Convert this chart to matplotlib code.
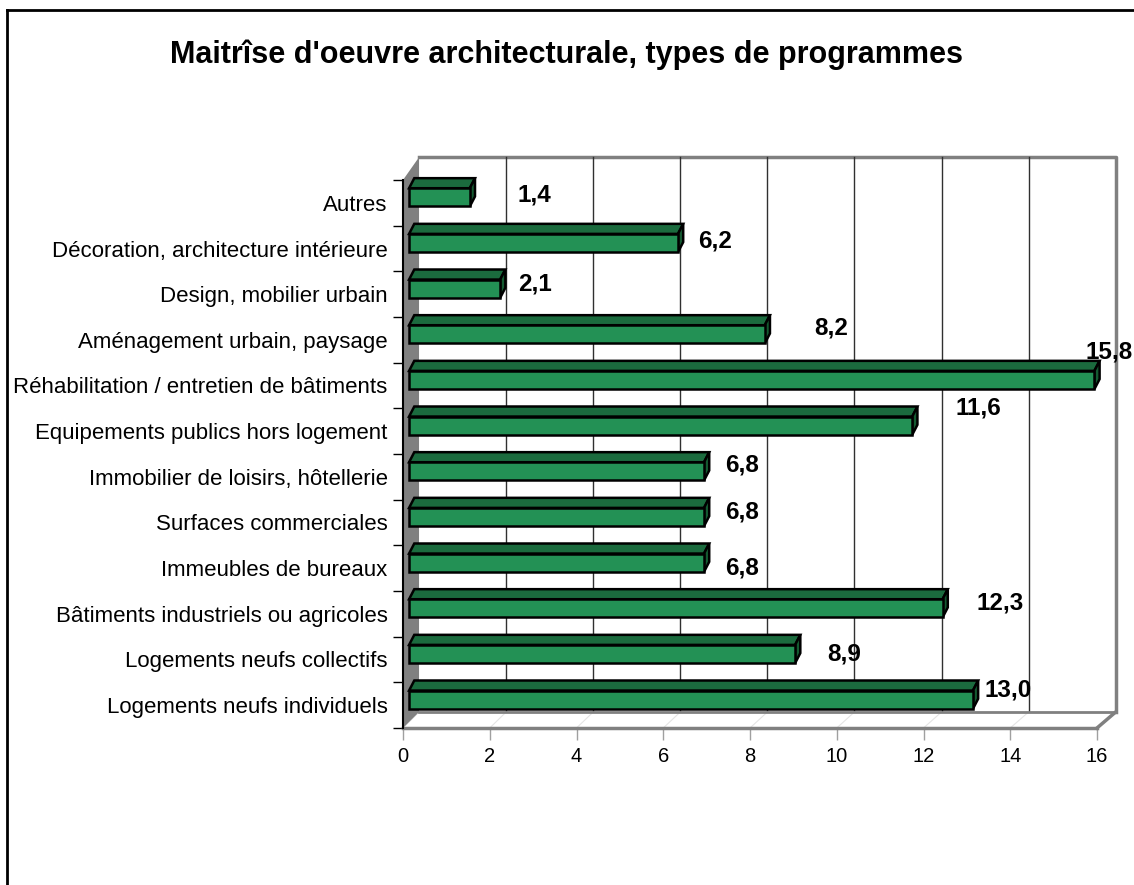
import numpy as np
import matplotlib
matplotlib.use("Agg")
import matplotlib.pyplot as plt
from matplotlib.patches import Polygon, Rectangle
from matplotlib.lines import Line2D

plt.rcParams['font.family'] = ['Liberation Sans', 'DejaVu Sans']

# data (bottom to top)
categories = [
    "Logements neufs individuels",
    "Logements neufs collectifs",
    "Bâtiments industriels ou agricoles",
    "Immeubles de bureaux",
    "Surfaces commerciales",
    "Immobilier de loisirs, hôtellerie",
    "Equipements publics hors logement",
    "Réhabilitation / entretien de bâtiments",
    "Aménagement urbain, paysage",
    "Design, mobilier urbain",
    "Décoration, architecture intérieure",
    "Autres",
]
values = [13.0, 8.9, 12.3, 6.8, 6.8, 6.8, 11.6, 15.8, 8.2, 2.1, 6.2, 1.4]
value_labels = ["13,0", "8,9", "12,3", "6,8", "6,8", "6,8", "11,6", "15,8",
                "8,2", "2,1", "6,2", "1,4"]
x_ticks = [0, 2, 4, 6, 8, 10, 12, 14, 16]
title = "Maitrîse d'oeuvre architecturale, types de programmes"

# layout: where excel dropped the value labels (offset from bar end / category)
lab_dx = [0.94, 1.28, 1.46, 1.01, 1.01, 1.01, 1.67, 0.49, 1.68, 0.94, 0.99, 1.64]
lab_dy = [0.83, 0.62, 0.74, 0.50, 0.73, 0.76, 1.01, 1.23, 0.76, 0.72, 0.66, 0.67]

W, H = 1134, 885
fig = plt.figure(figsize=(W / 100, H / 100), dpi=100)
ax = fig.add_axes([403 / W, 1 - 728 / H, 694 / W, 548 / H])
n = len(categories)
ax.set_xlim(0, 16)
ax.set_ylim(0, n)

# 3d box geometry (data units)
bx0, bx1, by0, by1 = 0.37, 16.43, 0.35, 12.5
gray = '#808080'

# back wall
ax.add_patch(Rectangle((bx0, by0), bx1 - bx0, by1 - by0, facecolor='white',
                       edgecolor='none', zorder=0, clip_on=False))
ax.add_line(Line2D([bx0, bx1, bx1], [by1, by1, by0], color=gray, lw=2.5,
                   zorder=1, clip_on=False))
for v in x_ticks[1:-1]:
    gx = bx0 + v * (bx1 - bx0) / 16
    ax.add_line(Line2D([gx, gx], [by0, by1], color='#303030', lw=1,
                       zorder=1, clip_on=False))

# floor
ax.add_patch(Polygon([(0, 0), (16, 0), (bx1, by0), (bx0, by0)], closed=True,
                     facecolor='white', edgecolor='none', zorder=1.5, clip_on=False))
for v in x_ticks:
    gx = bx0 + v * (bx1 - bx0) / 16
    ax.add_line(Line2D([v, gx], [0, by0], color='#e4e4e4', lw=0.8,
                       zorder=1.6, clip_on=False))
ax.add_line(Line2D([bx0, bx1], [by0, by0], color=gray, lw=2, zorder=1.7, clip_on=False))
ax.add_line(Line2D([16, bx1], [0, by0], color=gray, lw=2.5, zorder=1.7, clip_on=False))

# left wall
ax.add_patch(Polygon([(0, 0), (0, n), (bx0, by1), (bx0, by0)], closed=True,
                     facecolor=gray, edgecolor='none', zorder=2, clip_on=False))

# bars
x0 = 0.14
fy0, fy1 = 0.42, 0.82
ddx, ddy = 0.12, 0.22
front_c, top_c, side_c = '#239155', '#1b6b3e', '#145a31'
ax.barh(np.arange(n) + fy0, values, height=fy1 - fy0, left=x0, align='edge',
        color=front_c, edgecolor='black', linewidth=1.8, zorder=5)
for i, v in enumerate(values):
    xe = x0 + v
    ya, yb = i + fy0, i + fy1
    ax.add_patch(Polygon([(x0, yb), (xe, yb), (xe + ddx, yb + ddy), (x0 + ddx, yb + ddy)],
                         closed=True, facecolor=top_c, edgecolor='black', lw=1.8,
                         zorder=4, clip_on=False))
    ax.add_patch(Polygon([(xe, ya), (xe, yb), (xe + ddx, yb + ddy), (xe + ddx, ya + ddy)],
                         closed=True, facecolor=side_c, edgecolor='black', lw=1.8,
                         zorder=4, clip_on=False))
    ax.text(v + lab_dx[i], i + lab_dy[i], value_labels[i], ha='center', va='center',
            fontsize=17.5, fontweight='bold', zorder=6, clip_on=False)

# axes
for s in ['top', 'right']:
    ax.spines[s].set_visible(False)
ax.spines['left'].set_color('black')
ax.spines['left'].set_linewidth(1.5)
ax.spines['left'].set_zorder(3)
ax.spines['bottom'].set_color(gray)
ax.spines['bottom'].set_linewidth(2.5)
ax.set_xticks(x_ticks)
ax.set_xticklabels([str(t) for t in x_ticks])
ax.tick_params(axis='x', length=8.6, color='#a0a0a0', width=1, pad=5, labelsize=14.5)
ax.set_yticks(np.arange(n + 1))
ax.set_yticklabels([])
ax.tick_params(axis='y', which='major', length=7.2, color='black', width=1)
ax.set_yticks(np.arange(n) + 0.5, minor=True)
ax.set_yticklabels(categories, minor=True)
ax.tick_params(axis='y', which='minor', length=0, pad=11, labelsize=16)
ax.set_facecolor('none')

fig.text(567 / W, 1 - 55 / H, title, ha='center', va='center',
         fontsize=22, fontweight='bold')

# outer frame (cut at right and bottom)
fig.add_artist(Line2D([7 / W, 7 / W], [0, 1 - 10 / H], color='black', lw=2,
                      transform=fig.transFigure))
fig.add_artist(Line2D([7 / W, 1], [1 - 10 / H, 1 - 10 / H], color='black', lw=2,
                      transform=fig.transFigure))

fig.savefig('out.png', dpi=100)
